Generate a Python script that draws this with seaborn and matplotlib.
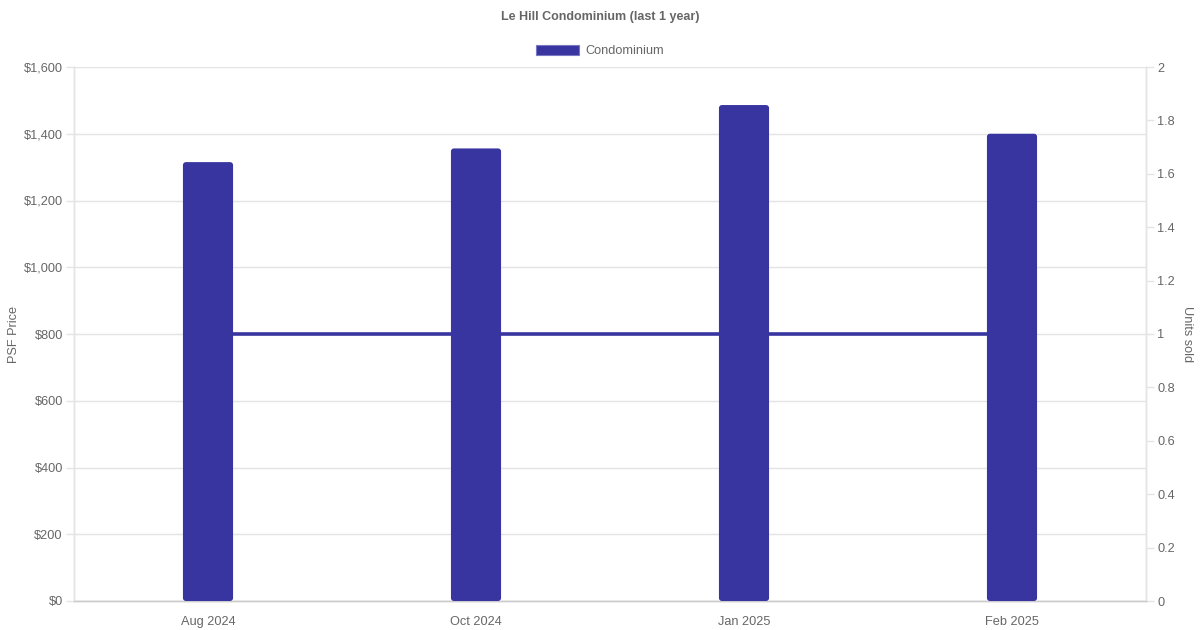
import matplotlib
matplotlib.use("Agg")
import matplotlib.pyplot as plt
import seaborn as sns
import pandas as pd
from matplotlib.patches import Patch, FancyBboxPatch
from matplotlib.ticker import FuncFormatter, MultipleLocator

months = ["Aug 2024", "Oct 2024", "Jan 2025", "Feb 2025"]
psf_price = [1315, 1356, 1486, 1400]
units_sold = [1, 1, 1, 1]
psf_ticks = [0, 200, 400, 600, 800, 1000, 1200, 1400, 1600]

BAR = "#3834a0"
GRID = "#e4e4e4"
TXT = "#666666"

sns.set_theme(style="white")
plt.rcParams["font.family"] = ["Liberation Sans", "DejaVu Sans"]

df = pd.DataFrame({"month": months, "psf": psf_price, "units": units_sold})

fig = plt.figure(figsize=(12, 6.3), dpi=100)
ax2 = fig.add_axes([74/1200, 29/630, (1146-74)/1200, (601-67)/630])
ax = ax2.twinx()
ax.yaxis.tick_left()
ax.yaxis.set_label_position("left")
ax2.yaxis.tick_right()
ax2.yaxis.set_label_position("right")

# line (units) on bottom axes
sns.lineplot(data=df, x="month", y="units", ax=ax2, color=BAR, lw=2.6, sort=False, zorder=3)
ax2.set_ylim(0, 2)
for t in psf_ticks:
    ax2.axhline(t * 2 / 1600, color=GRID, lw=1, zorder=0)

# bars on top axes
sns.barplot(data=df, x="month", y="psf", ax=ax, color=BAR, width=0.187,
            saturation=1, zorder=3, linewidth=0)
ax.set_ylim(0, 1600)
ax.set_xlim(-0.5, 3.5)
ax2.set_xlim(-0.5, 3.5)
ax.patch.set_visible(False)

# rounded bar corners
px_x = 4 / 1072
px_y = 1600 / 534
for p in list(ax.patches):
    x0, y0, w, h = p.get_x(), p.get_y(), p.get_width(), p.get_height()
    fb = FancyBboxPatch((x0, y0), w, h, boxstyle=f"round,pad=0,rounding_size={3*px_x}",
                        mutation_aspect=px_y / px_x, facecolor=BAR, edgecolor="none",
                        zorder=3)
    p.remove()
    ax.add_patch(fb)

ax.yaxis.set_major_locator(MultipleLocator(200))
ax.yaxis.set_major_formatter(FuncFormatter(lambda v, p: f"${v:,.0f}"))
ax2.yaxis.set_major_locator(MultipleLocator(0.2))
ax2.yaxis.set_major_formatter(FuncFormatter(lambda v, p: f"{v:g}"))

for a in (ax, ax2):
    a.tick_params(axis="both", length=6, width=1, color=GRID, labelsize=9.2,
                  labelcolor=TXT, pad=2)
    a.set_xlabel("")
    for s in a.spines.values():
        s.set_color(GRID)
        s.set_linewidth(1)
    a.spines["top"].set_visible(False)
ax.spines["bottom"].set_color("#cccccc")
ax2.spines["bottom"].set_color("#cccccc")
ax2.tick_params(axis="x", length=6, color=GRID, pad=5)

ax.set_ylabel("PSF Price", color=TXT, fontsize=9.2, labelpad=3)
ax2.set_ylabel("Units sold", color=TXT, fontsize=9.2, rotation=270, labelpad=13)

fig.text(0.5, 1 - 17/630, "Le Hill Condominium (last 1 year)", ha="center", va="center",
         fontsize=9, fontweight="bold", color=TXT)
leg = fig.legend(handles=[Patch(facecolor=BAR, edgecolor="#7a77c4", lw=0.8)],
                 labels=["Condominium"], loc="center", bbox_to_anchor=(0.5, 1 - 51/630),
                 frameon=False, handlelength=3.3, handleheight=0.9, handletextpad=0.5,
                 fontsize=9.2)
for t in leg.get_texts():
    t.set_color(TXT)

fig.savefig("out.png", dpi=100)
